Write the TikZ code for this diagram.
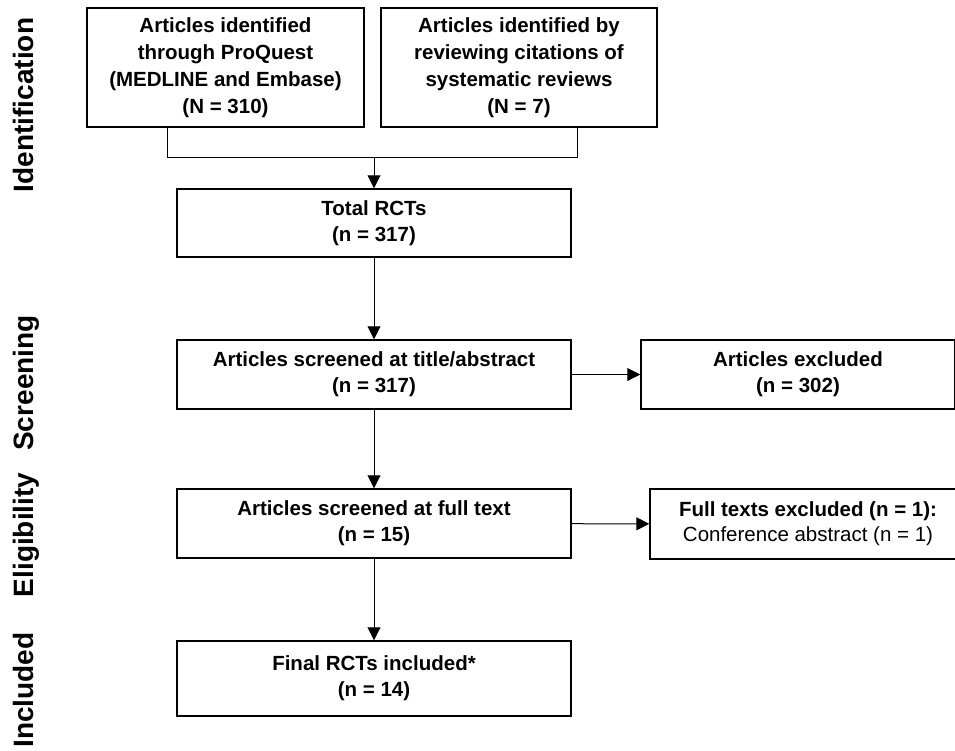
\documentclass[tikz,border=0pt]{standalone}
\usepackage{fontspec}
\setmainfont{Liberation Sans}
\usetikzlibrary{arrows.meta}

\begin{document}
\begin{tikzpicture}[x=1pt, y=-1pt,
    box/.style = {draw, line width=1.5pt, align=center, inner sep=0pt,
                  font=\fontsize{20.5}{26}\selectfont\bfseries},
    phase/.style = {rotate=90, anchor=base, inner sep=0pt,
                    font=\fontsize{28}{30}\selectfont\bfseries},
    link/.style = {line width=1pt, -{Triangle[length=13pt,width=13pt]}}]

                    \useasboundingbox (0,0) rectangle (955,750);
                    \clip (0,0) rectangle (955,750);
                    % \draw[style=help lines, step=50] (0,0) grid (955,750);

                    % phases on the left
                    \node[phase] (identphase) at (33,105) {Identification};
                    \node[phase] (screenphase) at (33,383) {Screening};
                    \node[phase] (eligphase) at (33,535) {Eligibility};
                    \node[phase] (inclphase) at (33,690) {Included};

                    % identification
                    \node[box, minimum width=277, minimum height=119, font=\fontsize{20.5}{27}\selectfont\bfseries] (proquest) at (225.5,67.5)
                        {Articles identified\\through ProQuest\\(MEDLINE and Embase)\\(N = 310)};
                    \node[box, minimum width=276, minimum height=119, font=\fontsize{20.5}{27}\selectfont\bfseries] (citations) at (519,67.5)
                        {Articles identified by\\reviewing citations of\\systematic reviews\\(N = 7)};
                    \node[box, minimum width=394, minimum height=68] (total) at (374,223)
                        {Total RCTs\\(n = 317)};

                    % screening and eligibility
                    \node[box, minimum width=394, minimum height=69] (screened) at (374,374.5)
                        {Articles screened at title/abstract\\(n = 317)};
                    \node[box, minimum width=314, minimum height=69] (excluded) at (798,374.5)
                        {Articles excluded\\(n = 302)};
                    \node[box, minimum width=394, minimum height=69] (fulltext) at (374,523.5)
                        {Articles screened at full text\\(n = 15)};
                    \node[box, minimum width=316, minimum height=70, font=\fontsize{20.5}{25}\selectfont] (textsout) at (808,524)
                        {\textbf{Full texts excluded (n = 1):}\\Conference abstract (n = 1)};

                    % included
                    \node[box, minimum width=394, minimum height=75] (final) at (374,678.5)
                        {Final RCTs included*\\(n = 14)};

                    % joining the two sources
                    \coordinate (joinl) at (167,157);
                    \coordinate (joinr) at (577,157);
                    \draw[line width=1pt] (proquest.south -| joinl) -- (joinl) -- (joinr) -- (citations.south -| joinr);
                    \draw[link] (total.north |- joinl) -- (total);

                    \draw[link] (total) -- (screened);
                    \draw[link] (screened) -- (excluded);
                    \draw[link] (screened) -- (fulltext);
                    \draw[link] (fulltext) -- (textsout);
                    \draw[link] (fulltext) -- (final);
                \end{tikzpicture}
\end{document}
